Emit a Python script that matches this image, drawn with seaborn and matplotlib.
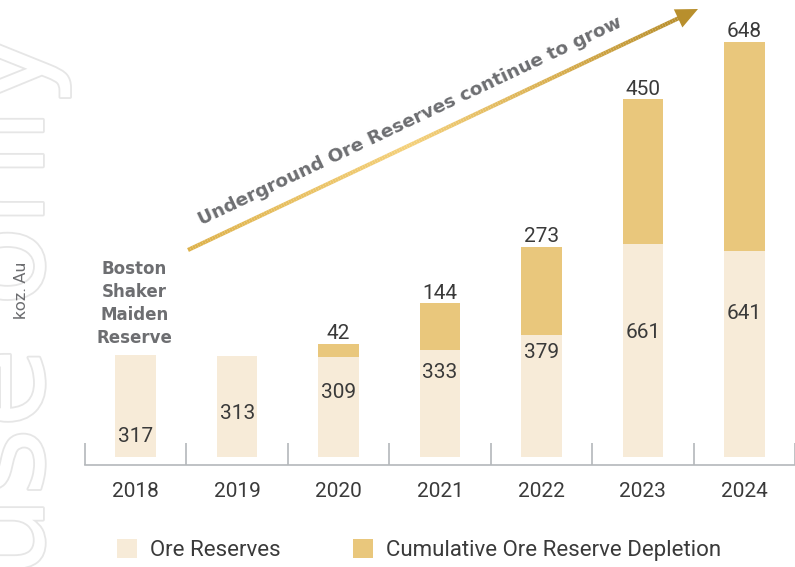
import numpy as np
import pandas as pd
import matplotlib
matplotlib.use("Agg")
import matplotlib.pyplot as plt
import seaborn as sns
from matplotlib.patches import Patch, Polygon
from matplotlib.collections import LineCollection
from matplotlib.colors import LinearSegmentedColormap
import matplotlib.patheffects as pe

# ---- data ----
years = ["2018", "2019", "2020", "2021", "2022", "2023", "2024"]
ore_reserves = [317, 313, 309, 333, 379, 661, 641]
depletion = [0, 0, 42, 144, 273, 450, 648]
depletion_labels = [None, None, "42", "144", "273", "450", "648"]
ore_label_y = [62, 134, 199, 261, 323, 388, 444]   # label placement (data units)
legend_labels = ["Ore Reserves", "Cumulative Ore Reserve Depletion"]

CREAM = "#f7ebd8"
GOLD = "#e9c77c"
TXT = "#3a3a3a"
GREY = "#6d6e71"
AXC = "#b4b7bb"

sns.set_theme(style="white")
plt.rcParams["font.family"] = ["Roboto", "DejaVu Sans"]

W, H = 795, 567
fig = plt.figure(figsize=(W / 100, H / 100), dpi=100)
fig.patch.set_facecolor("white")

# watermark (behind everything)
fig.text(43 / W, 1 - 30 / H, "For personal use only", rotation=90,
         rotation_mode="anchor", ha="right", va="baseline",
         fontsize=94, family="DejaVu Sans", color="white", zorder=-5,
         path_effects=[pe.withStroke(linewidth=2.6, foreground="#e6e6e6")])

# main axes: left 85px, right 795px, bottom spine at 465px
ylo, yhi = -25, 1400
px_per_unit = 0.322
ax_h = (yhi - ylo) * px_per_unit
ax = fig.add_axes([85 / W, (H - 465) / H, 710 / W, ax_h / H])
ax.set_facecolor("none")

df = pd.DataFrame({"year": years, "reserves": ore_reserves,
                   "total": np.array(ore_reserves) + np.array(depletion)})

sns.barplot(data=df, x="year", y="total", color=GOLD, saturation=1,
            width=0.4, errorbar=None, ax=ax, linewidth=0)
sns.barplot(data=df, x="year", y="reserves", color=CREAM, saturation=1,
            width=0.4, errorbar=None, ax=ax, linewidth=0)

ax.set_xlim(-0.5, 6.5)
ax.set_ylim(ylo, yhi)
ax.set_xlabel("")
ax.set_ylabel("")
ax.set_yticks([])
for s in ["top", "right", "left"]:
    ax.spines[s].set_visible(False)
ax.spines["bottom"].set_color(AXC)
ax.spines["bottom"].set_linewidth(1.2)
ax.set_xticks(range(len(years)))
ax.set_xticklabels(years)
ax.set_xticks(np.arange(-0.5, len(years), 1), minor=True)
ax.tick_params(axis="x", which="major", length=0, pad=12, labelsize=15,
               labelcolor=TXT)
ax.tick_params(axis="x", which="minor", direction="in", length=15.8,
               width=1.2, color=AXC, bottom=True)

for i, (v, yl) in enumerate(zip(ore_reserves, ore_label_y)):
    ax.text(i, yl, str(v), ha="center", va="center", fontsize=15, color=TXT)
for i, (lab, r, d) in enumerate(zip(depletion_labels, ore_reserves, depletion)):
    if lab:
        ax.annotate(lab, (i, r + d), xytext=(0, 0.5), textcoords="offset points",
                    ha="center", va="bottom", fontsize=15, color=TXT)

ax.annotate("Boston\nShaker\nMaiden\nReserve", (0, ore_reserves[0]),
            xytext=(-1, 6), textcoords="offset points", ha="center",
            va="bottom", fontsize=12, fontweight="bold", color=GREY,
            family="DejaVu Sans", linespacing=1.35)

fig.text(22 / W, 1 - 290 / H, "koz. Au", rotation=90, ha="center",
         va="center", fontsize=12.5, color=GREY)

# overlay for the arrow in pixel coordinates
ov = fig.add_axes([0, 0, 1, 1], zorder=5)
ov.set_xlim(0, W)
ov.set_ylim(H, 0)
ov.axis("off")
ov.patch.set_alpha(0)

p0 = np.array([188.0, 250.0])
tip = np.array([698.0, 9.0])
u = (tip - p0) / np.linalg.norm(tip - p0)
nrm = np.array([-u[1], u[0]])
base = tip - 22 * u
n_seg = 200
pts = p0 + np.outer(np.linspace(0, 1, n_seg + 1), base + 2 * u - p0)
segs = np.stack([pts[:-1], pts[1:]], axis=1)
cmap = LinearSegmentedColormap.from_list(
    "g", [(0, "#ddb14a"), (0.45, "#f4d07a"), (0.75, "#d8ae4f"), (1, "#b88f2d")])
lc = LineCollection(segs, colors=cmap(np.linspace(0, 1, n_seg)), linewidths=3.0,
                    capstyle="butt")
ov.add_collection(lc)
ov.add_patch(Polygon([tip, base + 10 * nrm, base - 10 * nrm], closed=True,
                     color="#b88f2d", lw=0))
ang = np.degrees(np.arctan2(-(tip - p0)[1], (tip - p0)[0]))
ov.text(410, 121, "Underground Ore Reserves continue to grow", rotation=ang,
        rotation_mode="anchor", ha="center", va="center", fontsize=13.3,
        fontweight="bold", color=GREY, family="DejaVu Sans")

handles = [Patch(facecolor=CREAM, edgecolor="none"),
           Patch(facecolor=GOLD, edgecolor="none")]
fig.legend(handles, legend_labels, ncol=2, loc="center left",
           bbox_to_anchor=(117 / W, 1 - 550 / H), frameon=False,
           fontsize=16, handlelength=0.9, handleheight=0.9,
           handletextpad=0.58, columnspacing=3.28, borderpad=0,
           borderaxespad=0, labelcolor=TXT)

fig.savefig("out.png", dpi=100, facecolor="white")
